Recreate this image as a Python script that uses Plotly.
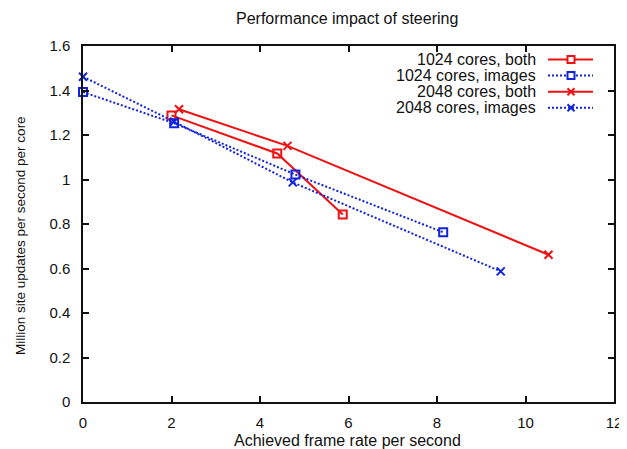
import plotly.graph_objects as go

series_names = ["1024 cores, both", "1024 cores, images", "2048 cores, both", "2048 cores, images"]
x_1024_both = [2.0, 4.39, 5.87]
y_1024_both = [1.288, 1.117, 0.843]
x_1024_images = [0.0, 2.06, 4.8, 8.14]
y_1024_images = [1.393, 1.253, 1.022, 0.763]
x_2048_both = [2.17, 4.62, 10.52]
y_2048_both = [1.316, 1.151, 0.662]
x_2048_images = [0.0, 2.06, 4.74, 9.44]
y_2048_images = [1.462, 1.26, 0.987, 0.587]

x_ticks = [0, 2, 4, 6, 8, 10, 12]
y_ticks = [0, 0.2, 0.4, 0.6, 0.8, 1, 1.2, 1.4, 1.6]
y_tick_labels = ["0", "0.2", "0.4", "0.6", "0.8", "1", "1.2", "1.4", "1.6"]

RED = "#ee1111"
BLUE = "#1122dd"
DOT = "2px,2px"

styles = [
    dict(color=RED, dash="solid", symbol="square-open", kind="sq"),
    dict(color=BLUE, dash=DOT, symbol="square-open", kind="sq"),
    dict(color=RED, dash="solid", symbol="x-thin-open", kind="x"),
    dict(color=BLUE, dash=DOT, symbol="x-thin-open", kind="x"),
]
xs = [x_1024_both, x_1024_images, x_2048_both, x_2048_images]
ys = [y_1024_both, y_1024_images, y_2048_both, y_2048_images]

fig = go.Figure()
for name, x, y, st in zip(series_names, xs, ys, styles):
    fig.add_trace(go.Scatter(
        x=x, y=y, name=name, mode="lines+markers", cliponaxis=False, showlegend=False,
        line=dict(color=st["color"], width=2, dash=st["dash"]),
        marker=dict(symbol=st["symbol"], size=8, color=st["color"],
                    line=dict(color=st["color"], width=2)),
    ))

# The page has an 8px body margin: size the figure so it fits the 627x449 window.
OFF = 8
W, H = 627 - OFF, 449 - OFF
# target plot area in window pixels: x 83..614, y 46..402
L, R, T, B = 83 - OFF, 13, 46 - OFF, 47
PW, PH = W - L - R, H - T - B


def px(xp):  # window pixel -> paper fraction
    return (xp - OFF - L) / PW


def py(yp):
    return (H - B - (yp - OFF)) / PH


font = "Liberation Sans, Arial, Helvetica, sans-serif"
FS = 16

annotations = [
    dict(text="Performance impact of steering", xref="paper", yref="paper",
         x=px(347), y=py(18), xanchor="center", yanchor="middle",
         showarrow=False, font=dict(size=FS)),
    dict(text="Achieved frame rate per second", xref="paper", yref="paper",
         x=px(347), y=py(440), xanchor="center", yanchor="middle",
         showarrow=False, font=dict(size=FS)),
    dict(text="Million site updates per second per core", xref="paper", yref="paper",
         x=px(20), y=py(236), xanchor="center", yanchor="middle",
         showarrow=False, textangle=-90, font=dict(size=13.5)),
]
shapes = []
row_y = 59.5
row_gap = 16.1
for i, (name, st) in enumerate(zip(series_names, styles)):
    yc = row_y + i * row_gap
    annotations.append(dict(text=name, xref="paper", yref="paper", x=px(538), y=py(yc),
                            xanchor="right", yanchor="middle", showarrow=False,
                            font=dict(size=FS)))
    shapes.append(dict(type="line", xref="paper", yref="paper",
                       x0=px(548), x1=px(593), y0=py(yc), y1=py(yc),
                       line=dict(color=st["color"], width=2, dash=st["dash"])))
    cx, h = 571, 3.5
    if st["kind"] == "sq":
        shapes.append(dict(type="rect", xref="paper", yref="paper",
                           x0=px(cx - h), x1=px(cx + h), y0=py(yc - h), y1=py(yc + h),
                           line=dict(color=st["color"], width=2), fillcolor="white"))
    else:
        shapes.append(dict(type="line", xref="paper", yref="paper",
                           x0=px(cx - h), x1=px(cx + h), y0=py(yc - h), y1=py(yc + h),
                           line=dict(color=st["color"], width=2)))
        shapes.append(dict(type="line", xref="paper", yref="paper",
                           x0=px(cx - h), x1=px(cx + h), y0=py(yc + h), y1=py(yc - h),
                           line=dict(color=st["color"], width=2)))

fig.update_layout(
    width=W, height=H,
    margin=dict(l=L, r=R, t=T, b=B),
    paper_bgcolor="white", plot_bgcolor="white",
    font=dict(family=font, size=FS, color="#111111"),
    showlegend=False,
    annotations=annotations,
    shapes=shapes,
    xaxis=dict(range=[0, 12], tickvals=x_ticks, showgrid=False, zeroline=False,
               showline=True, linecolor="#111111", linewidth=1.5, mirror="ticks",
               ticks="inside", ticklen=6, tickcolor="#111111", tickwidth=1.5,
               ticklabelstandoff=6, automargin=False, tickfont=dict(size=15)),
    yaxis=dict(range=[0, 1.6], tickvals=y_ticks, ticktext=y_tick_labels,
               showgrid=False, zeroline=False,
               showline=True, linecolor="#111111", linewidth=1.5, mirror="ticks",
               ticks="inside", ticklen=6, tickcolor="#111111", tickwidth=1.5,
               ticklabelstandoff=8, automargin=False, tickfont=dict(size=15)),
)

fig.write_html("out.html")
